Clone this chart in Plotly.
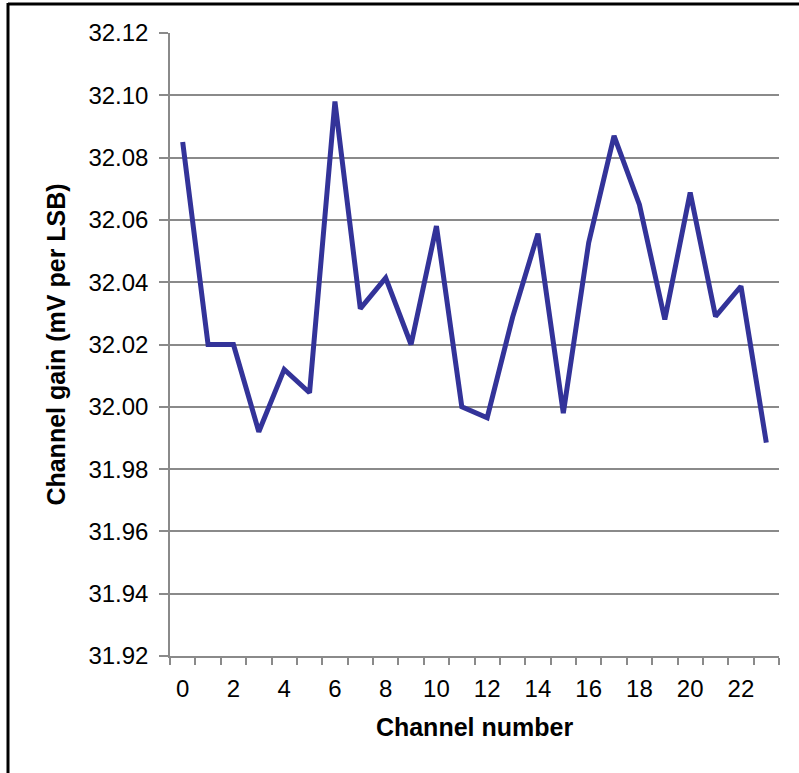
import plotly.graph_objects as go

channels = list(range(24))
gain = [32.085, 32.020, 32.020, 31.992, 32.012, 32.0045, 32.098, 32.0315,
        32.0414, 32.020, 32.058, 32.000, 31.9965, 32.0287, 32.0556, 31.998,
        32.0527, 32.0870, 32.0649, 32.028, 32.0688, 32.029, 32.0387, 31.9885]
y_ticks = [31.92, 31.94, 31.96, 31.98, 32.00, 32.02, 32.04, 32.06, 32.08, 32.10, 32.12]
x_ticks = list(range(0, 24, 2))

W, H = 799, 773
ML, MR, MT, MB = 170, 20, 33, 117
pw, ph = W - ML - MR, H - MT - MB

fig = go.Figure()
fig.add_trace(go.Scatter(x=channels, y=gain, mode="lines",
                         line=dict(color="#333399", width=5),
                         showlegend=False))

grid = "#8a8a8a"
fig.update_layout(
    width=W, height=H,
    margin=dict(l=ML, r=MR, t=MT, b=MB),
    paper_bgcolor="white", plot_bgcolor="white",
    font=dict(family="Liberation Sans, Arial, sans-serif", color="black", size=24),
    xaxis=dict(
        range=[-0.5, 23.5], tickvals=x_ticks, ticktext=[str(v) for v in x_ticks],
        ticks="", showgrid=False, zeroline=False,
        showline=True, linecolor=grid, linewidth=1.5,
        tickfont=dict(size=24), ticklabelstandoff=10,
        minor=dict(tick0=-0.5, dtick=1, ticks="outside", ticklen=7,
                   tickcolor=grid, tickwidth=1.5, showgrid=False),
        title=dict(text="<b>Channel number</b>", font=dict(size=25), standoff=18),
    ),
    yaxis=dict(
        range=[31.92, 32.12], tickvals=y_ticks, tickformat=".2f",
        ticks="outside", ticklen=9, tickcolor=grid, tickwidth=1.5,
        showgrid=True, gridcolor=grid, gridwidth=1.5, zeroline=False,
        showline=True, linecolor=grid, linewidth=1.5,
        tickfont=dict(size=24), ticklabelstandoff=6,
        title=dict(text="<b>Channel gain (mV per LSB)</b>", font=dict(size=25), standoff=16),
    ),
)

# outer frame (top and left edges)
fig.add_shape(type="line", xref="paper", yref="paper",
              x0=(8 - ML) / pw, x1=(W + 5 - ML) / pw,
              y0=1 + (MT - 4) / ph, y1=1 + (MT - 4) / ph,
              line=dict(color="black", width=3))
fig.add_shape(type="line", xref="paper", yref="paper",
              x0=(8 - ML) / pw, x1=(8 - ML) / pw,
              y0=1 + (MT - 3) / ph, y1=-(MB + 5) / ph,
              line=dict(color="black", width=3))

fig.write_html("out.html", config={"displayModeBar": False},
               post_script="document.body.style.margin='0px';document.body.style.overflow='hidden';")
